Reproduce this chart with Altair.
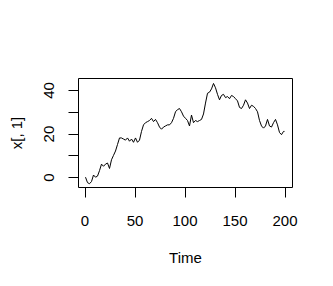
import altair as alt
import pandas as pd

time = list(range(1, 200, 2)) + [200]
values = [
    0, -2.5, -3, -2, 1, 0, 0.5, 3, 6, 5,
    6, 6.5, 4, 8, 10, 12, 15, 18, 18, 17.5,
    17, 18, 16.5, 17.5, 16, 18, 16, 17, 21, 24,
    25, 25.5, 26, 27, 25.5, 26.5, 25, 23, 22, 23,
    23.5, 24, 24, 25, 27, 30, 31, 31.5, 30, 28,
    27, 26, 23.5, 28.5, 25, 26, 25.5, 26, 26.5, 29,
    34, 38.5, 39, 40.5, 43, 41, 38, 35.5, 37.5, 38,
    36.5, 37, 36, 37.5, 37, 36, 35, 32, 31.5, 33,
    35.5, 34, 31.5, 33, 32.5, 31.5, 30, 26, 23.5, 22.5,
    23.5, 26.5, 23.5, 23, 25, 26.5, 24, 20.5, 19.5, 21,
    21,
]
x_ticks = [0, 50, 100, 150, 200]
y_ticks = [0, 10, 20, 30, 40]

df = pd.DataFrame({"t": time, "v": values})

FONT = "Liberation Sans"

chart = (
    alt.Chart(df)
    .mark_line(color="black", strokeWidth=1)
    .encode(
        x=alt.X(
            "t:Q",
            scale=alt.Scale(domain=[-6.5, 207.5], nice=False, zero=False),
            axis=alt.Axis(
                values=x_ticks, title="Time", grid=False, domain=False,
                tickSize=10, tickColor="black", labelFontSize=15,
                labelBaseline="middle", labelPadding=23,
                titleFontSize=15, titleFontWeight="normal",
                titleBaseline="middle", titleY=70.5, titleX=107,
            ),
        ),
        y=alt.Y(
            "v:Q",
            scale=alt.Scale(domain=[-4.5, 45.5], nice=False, zero=False),
            axis=alt.Axis(
                values=y_ticks, title="x[, 1]", grid=False, domain=False,
                tickSize=10, tickColor="black", labelFontSize=15,
                labelAngle=-90, labelAlign="center", labelBaseline="middle",
                labelPadding=20,
                labelExpr="datum.value % 20 == 0 ? datum.label : ''",
                titleFontSize=15, titleFontWeight="normal",
                titleBaseline="middle", titleAlign="center",
                titleX=-62, titleY=54.5,
            ),
        ),
    )
    .properties(
        width=214, height=109,
        autosize=alt.AutoSizeParams(type="none"),
        padding={"left": 78, "top": 78, "right": 41, "bottom": 99},
        background="white",
    )
    .configure_view(stroke="black", strokeWidth=1)
    .configure_axis(
        labelFont=FONT, titleFont=FONT, labelColor="black", titleColor="black",
        labelFlush=False, labelOverlap=False, tickWidth=1,
    )
)

chart.save("out.html", embed_options={"renderer": "svg", "actions": False})
